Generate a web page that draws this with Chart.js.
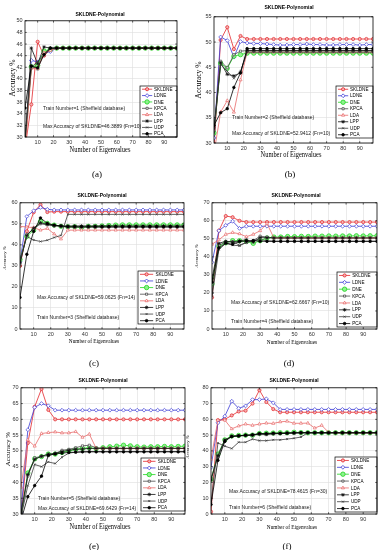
<!DOCTYPE html>
<html><head><meta charset="utf-8">
<script src="https://cdn.jsdelivr.net/npm/chart.js@4.4.0/dist/chart.umd.min.js"></script>
<style>
html,body{margin:0;padding:0;background:#fff;}
body{width:379px;height:550px;overflow:hidden;position:relative;}
canvas{position:absolute;}
.t{position:absolute;white-space:nowrap;line-height:1;color:#000;font-family:"Liberation Sans",Arial,sans-serif;}
</style></head><body>
<script>
// ---------------- data ----------------
const eigen = [2,6,10,14,18,22,26,30,34,38,42,46,50,54,58,62,66,70,74,78,82,86,90,94,98];
const xTicks = [10,20,30,40,50,60,70,80,90];
const seriesNames = ['SKLDNE','LDNE','DNE','KPCA','LDA','LPP','UDP','PCA'];

const yTicksA = [30,32,34,36,38,40,42,44,46,48,50];
const yTicksB = [30,35,40,45,50,55];
const yTicksC = [0,10,20,30,40,50,60];
const yTicksD = [0,10,20,30,40,50,60,70];
const yTicksE = [30,35,40,45,50,55,60,65,70];
const yTicksF = [0,10,20,30,40,50,60,70,80];

// (a) Train Number=1
const a_SKLDNE = [28,35.6,46.39,44.0,45.0,45.3,45.3,45.3,45.3,45.3,45.3,45.3,45.3,45.3,45.3,45.3,45.3,45.3,45.3,45.3,45.3,45.3,45.3,45.3,45.3];
const a_LDNE   = [28.5,43.2,42.9,44.5,44.7,45.3,45.3,45.3,45.3,45.3,45.3,45.3,45.3,45.3,45.3,45.3,45.3,45.3,45.3,45.3,45.3,45.3,45.3,45.3,45.3];
const a_DNE    = [28.5,42.1,42.3,44.8,45.1,45.3,45.3,45.3,45.3,45.3,45.3,45.3,45.3,45.3,45.3,45.3,45.3,45.3,45.3,45.3,45.3,45.3,45.3,45.3,45.3];
const a_KPCA   = [29,42.2,41.7,44.3,45.3,45.3,45.3,45.3,45.3,45.3,45.3,45.3,45.3,45.3,45.3,45.3,45.3,45.3,45.3,45.3,45.3,45.3,45.3,45.3,45.3];
const a_LDA    = [27,41.8,41.8,44.5,44.9,45.3,45.3,45.3,45.3,45.3,45.3,45.3,45.3,45.3,45.3,45.3,45.3,45.3,45.3,45.3,45.3,45.3,45.3,45.3,45.3];
const a_LPP    = [29,45.3,42.6,45.5,45.3,45.3,45.3,45.3,45.3,45.3,45.3,45.3,45.3,45.3,45.3,45.3,45.3,45.3,45.3,45.3,45.3,45.3,45.3,45.3,45.3];
const a_UDP    = [30,42.0,43.0,44.0,45.2,45.3,45.3,45.3,45.3,45.3,45.3,45.3,45.3,45.3,45.3,45.3,45.3,45.3,45.3,45.3,45.3,45.3,45.3,45.3,45.3];
const a_PCA    = [35,42.2,41.9,44.2,45.3,45.3,45.3,45.3,45.3,45.3,45.3,45.3,45.3,45.3,45.3,45.3,45.3,45.3,45.3,45.3,45.3,45.3,45.3,45.3,45.3];

// (b) Train Number=2
const b_SKLDNE = [29,50.4,52.94,48.6,51.2,50.6,50.6,50.6,50.6,50.6,50.6,50.6,50.6,50.6,50.6,50.6,50.6,50.6,50.6,50.6,50.6,50.6,50.6,50.6,50.6];
const b_LDNE   = [31,51.0,50.3,47.0,50.1,49.8,49.7,49.7,49.6,49.5,49.4,49.4,49.5,49.5,49.6,49.5,49.5,49.4,49.4,49.5,49.5,49.5,49.4,49.5,49.5];
const b_DNE    = [32,45.8,44.8,47.2,47.5,47.8,47.8,47.8,47.8,47.8,47.8,47.8,47.8,47.8,47.8,47.8,47.8,47.8,47.8,47.8,47.8,47.8,47.8,47.8,47.8];
const b_KPCA   = [32.5,46.2,44.9,47.5,48.2,48.3,48.3,48.3,48.3,48.3,48.3,48.3,48.3,48.3,48.3,48.3,48.3,48.3,48.3,48.3,48.3,48.3,48.3,48.3,48.3];
const b_LDA    = [28,36.1,38.4,36.1,42.5,48.0,48.0,48.0,48.0,48.0,48.0,48.0,48.0,48.0,48.0,48.0,48.0,48.0,48.0,48.0,48.0,48.0,48.0,48.0,48.0];
const b_LPP    = [33,45.9,43.6,43.3,43.9,48.3,48.3,48.3,48.3,48.3,48.3,48.3,48.3,48.3,48.3,48.3,48.3,48.3,48.3,48.3,48.3,48.3,48.3,48.3,48.3];
const b_UDP    = [32,45.6,44.2,42.8,44.2,48.0,48.0,48.0,48.0,48.0,48.0,48.0,48.0,48.0,48.0,48.0,48.0,48.0,48.0,48.0,48.0,48.0,48.0,48.0,48.0];
const b_PCA    = [33.5,36.0,36.8,41.0,43.9,48.7,48.7,48.7,48.7,48.7,48.7,48.7,48.7,48.7,48.7,48.7,48.7,48.7,48.7,48.7,48.7,48.7,48.7,48.7,48.7];

// (c) Train Number=3
const c_SKLDNE = [30,46.5,55.5,59.06,55.6,55.8,55.8,55.8,55.8,55.8,55.8,55.8,55.8,55.8,55.8,55.8,55.8,55.8,55.8,55.8,55.8,55.8,55.8,55.8,55.8];
const c_LDNE   = [32,53.5,56.2,57.8,56.9,56.6,56.6,56.6,56.6,56.6,56.6,56.6,56.6,56.6,56.6,56.6,56.6,56.6,56.6,56.6,56.6,56.6,56.6,56.6,56.6];
const c_DNE    = [33,44,47,51.2,50.2,49.4,48.8,48.6,48.6,48.2,48.8,48.8,49.0,49.2,49.4,49.5,49.5,49.5,49.5,49.5,49.5,49.5,49.5,49.5,49.5];
const c_KPCA   = [31,45,47.5,50,49.5,49,48.8,48.4,48.4,48.4,48.4,48.4,48.4,48.4,48.4,48.4,48.4,48.4,48.4,48.4,48.4,48.4,48.4,48.4,48.4];
const c_LDA    = [48.8,48.5,48.2,47.0,47.8,45.2,42.8,47.0,47.0,47.0,47.0,47.0,47.0,47.0,47.0,47.0,47.0,47.0,47.0,47.0,47.0,47.0,47.0,47.0,47.0];
const c_LPP    = [31.5,44.5,48,50.5,49.8,49.2,49.0,49.0,49.0,49.0,49.0,49.0,49.0,49.0,49.0,49.0,49.0,49.0,49.0,49.0,49.0,49.0,49.0,49.0,49.0];
const c_UDP    = [33,44,42.3,41.6,42.2,43.5,44.5,54.5,54.5,54.5,54.5,54.5,54.5,54.5,54.5,54.5,54.5,54.5,54.5,54.5,54.5,54.5,54.5,54.5,54.5];
const c_PCA    = [15,35.5,46.4,52.8,50.2,49.4,49.0,48.6,48.6,48.6,48.6,48.6,48.6,48.6,48.6,48.6,48.6,48.6,48.6,48.6,48.6,48.6,48.6,48.6,48.6];

// (d) Train Number=4
const d_SKLDNE = [17.5,54.5,62.67,62.0,60.0,59.3,59.3,59.3,59.3,59.3,59.3,59.3,59.3,59.3,59.3,59.3,59.3,59.3,59.3,59.3,59.3,59.3,59.3,59.3,59.3];
const d_LDNE   = [37,54.5,57.5,59.8,55.8,57.0,57.0,57.0,57.0,57.0,57.0,57.0,57.0,57.0,57.0,57.0,57.0,57.0,57.0,57.0,57.0,57.0,57.0,57.0,57.0];
const d_DNE    = [25,46,47.8,49,49,48.5,47.5,49,50.5,51,51,51.3,51.2,51.4,51.3,51.5,51.5,51.6,51.5,51.6,51.6,51.7,51.6,51.7,51.7];
const d_KPCA   = [20,46.5,48.2,48.5,46.5,48,49,51.5,51,50.5,50.5,50.5,50.5,50.5,50.5,50.5,50.5,50.5,50.5,50.5,50.5,50.5,50.5,50.5,50.5];
const d_LDA    = [47,49.5,52.5,53.5,52.8,51.2,52.5,54.5,58.5,50.5,50.5,50.5,50.5,50.5,50.5,50.5,50.5,50.5,50.5,50.5,50.5,50.5,50.5,50.5,50.5];
const d_LPP    = [28,47.5,48.7,48.2,48.9,49.5,48.2,50.7,50.6,50.5,50.5,50.5,50.5,50.5,50.5,50.5,50.5,50.5,50.5,50.5,50.5,50.5,50.5,50.5,50.5];
const d_UDP    = [18,44,47.5,46.5,46.2,48,49.2,49.6,49.0,48.7,48.7,48.7,48.7,48.7,48.7,48.7,48.7,48.7,48.7,48.7,48.7,48.7,48.7,48.7,48.7];
const d_PCA    = [26,45,47.6,47,48.5,48.8,49,48.7,48.6,48.6,48.6,48.6,48.6,48.6,48.6,48.6,48.6,48.6,48.6,48.6,48.6,48.6,48.6,48.6,48.6];

// (e) Train Number=5
const e_SKLDNE = [29,52.5,64,69.64,63,60,60,60,60,60,60,60,60,60,60,60,60,60,60,60,60,60,60,60,60];
const e_LDNE   = [30.5,56.7,63.8,65,64.3,62.9,62.9,62.9,62.9,62.9,62.9,62.9,62.9,62.9,62.9,62.9,62.9,62.9,62.9,62.9,62.9,62.9,62.9,62.9,62.9];
const e_DNE    = [29,43,47.5,48.2,49,49,49.5,50,50.5,50.8,51,50.7,51,51.3,51.5,51.8,51.6,51.3,51.2,51.3,51.3,51.4,51.3,51.4,51.5];
const e_KPCA   = [29,42,47.8,48.3,48.5,49.2,50.2,50.5,51,51.6,51.8,51.0,50.8,50.8,50.8,50.8,50.8,50.8,50.8,50.8,50.8,50.8,50.8,50.8,50.8];
const e_LDA    = [38.5,53.5,51.5,55.5,55.8,56,55.7,55.7,56.1,54.3,55.3,50.8,50.8,50.8,50.8,50.8,50.8,50.8,50.8,50.8,50.8,50.8,50.8,50.8,50.8];
const e_LPP    = [30.5,42.5,47.3,48.3,49,49.2,49.8,50.2,50.5,50.6,50.8,50.8,50.8,50.8,50.8,50.8,50.8,50.8,50.8,50.8,50.8,50.8,50.8,50.8,50.8];
const e_UDP    = [29,39,45.7,45.0,46.5,46.0,48.0,49.3,49.6,49.7,49.8,49.8,49.8,49.8,49.8,49.8,49.8,49.8,49.8,49.8,49.8,49.8,49.8,49.8,49.8];
const e_PCA    = [28,35.5,39,42,48.6,49,49.3,49.5,49.6,49.7,49.7,49.7,49.7,49.7,49.7,49.7,49.7,49.7,49.7,49.7,49.7,49.7,49.7,49.7,49.7];

// (f) Train Number=6
const f_SKLDNE = [1.5,59.5,60,62.5,65,65.5,70,78.46,71,66.5,64.5,64.5,64.5,64.5,64.5,64.5,64.5,64.5,64.5,64.5,64.5,64.5,64.5,64.5,64.5];
const f_LDNE   = [29.5,57.8,62,71.5,67,68.5,72.5,72.5,73,70.5,66.3,66.3,66.3,66.3,66.3,66.3,66.3,66.3,66.3,66.3,66.3,66.3,66.3,66.3,66.3];
const f_DNE    = [22,38,47,49.5,49.8,50,50,51,51.2,51.3,51.5,51.5,51.8,51.6,51.5,51.5,51.5,51.5,51.5,51.5,51.5,51.5,51.5,51.5,51.5];
const f_KPCA   = [22.5,36,46.5,49.3,49.5,49.8,50,50.5,50.3,50.8,51,51.2,51.3,51.5,51.5,51.5,51.5,51.5,51.5,51.5,51.5,51.5,51.5,51.5,51.5];
const f_LDA    = [34.7,59.5,59.5,54.0,55.8,57.0,56.2,57.0,57.6,57.4,58.4,58.8,57.5,57.5,57.6,54.5,56.2,51.8,51.5,51.5,51.5,51.5,51.5,51.5,51.5];
const f_LPP    = [21.5,37,47,49,49.5,49.8,50,50.8,50.6,51,51,51.2,51.3,51.5,51.5,51.5,51.5,51.5,51.5,51.5,51.5,51.5,51.5,51.5,51.5];
const f_UDP    = [6.5,45,43,41.5,45.5,45.5,47.5,46.5,46.5,47,47,47.5,48,48.8,51.5,51.5,51.5,51.5,51.5,51.5,51.5,51.5,51.5,51.5,51.5];
const f_PCA    = [6,34,46,49.2,49.6,50,50.2,51,51,51.2,51.2,51.3,51.5,51.5,51.5,51.5,51.5,51.5,51.5,51.5,51.5,51.5,51.5,51.5,51.5];

// ---------------- texts ----------------
const titleText = 'SKLDNE-Polynomial';
const xLabelText = 'Number of Eigenvalues';
const yLabelText = 'Accuracy %';
const trainNotes = ['Train Number=1 (Sheffield database)','Train Number=2 (Sheffield database)','Train Number=3 (Sheffield database)','Train Number=4 (Sheffield database)','Train Number=5 (Sheffield database)','Train Number=6 (Sheffield database)'];
const maxNotes = ['Max Accuracy of SKLDNE=46.3889 (Fn=10)','Max Accuracy of SKLDNE=52.9412 (Fn=10)','Max Accuracy of SKLDNE=59.0625 (Fn=14)','Max Accuracy of SKLDNE=62.6667 (Fn=10)','Max Accuracy of SKLDNE=69.6429 (Fn=14)','Max Accuracy of SKLDNE=78.4615 (Fn=30)'];
const panelTags = ['(a)','(b)','(c)','(d)','(e)','(f)'];

// ---------------- styles & layout ----------------
const STYLE = {
  SKLDNE:{c:'#e3262b', ps:'circle',   bg:'#f5b0b0', r:1.6},
  LDNE:  {c:'#3b3bd6', ps:'rectRot',  bg:'#ffffff', r:1.9},
  DNE:   {c:'#1fd41f', ps:'circle',   bg:'#8ef28e', r:2.2},
  KPCA:  {c:'#4a4a4a', ps:'rect',     bg:'#ffffff', r:1.5},
  LDA:   {c:'#e86a6a', ps:'triangle', bg:'#ffffff', r:1.8},
  LPP:   {c:'#111111', ps:'star',     bg:'#111111', r:1.8},
  UDP:   {c:'#3a3a3a', ps:'crossRot', bg:'#3a3a3a', r:1.4},
  PCA:   {c:'#000000', ps:'circle',   bg:'#000000', r:1.3}
};

const panels = [
  {plot:[25,19,152,118], y:[30,50], yt:yTicksA, s:[a_SKLDNE,a_LDNE,a_DNE,a_KPCA,a_LDA,a_LPP,a_UDP,a_PCA], leg:[37,51,0,0],
   title:[100,15], xl:[100,150,1], yl:[13,78,1], tag:[97,174], notes:[[trainNotes[0],43,108],[maxNotes[0],43,126]]},
  {plot:[214,15,159,128], y:[30,55], yt:yTicksB, s:[b_SKLDNE,b_LDNE,b_DNE,b_KPCA,b_LDA,b_LPP,b_UDP,b_PCA], leg:[37,52,0,5],
   title:[289,8], xl:[291,155,1], yl:[199,80,1], tag:[290,174], notes:[[trainNotes[1],232,117],[maxNotes[1],232,133]]},
  {plot:[20,201,164,128], y:[0,60], yt:yTicksC, s:[c_SKLDNE,c_LDNE,c_DNE,c_KPCA,c_LDA,c_LPP,c_UDP,c_PCA], leg:[46,53,0,5],
   title:[102,196], xl:[94,342,0], yl:[5,258,0], tag:[94,363], notes:[[maxNotes[2],37,297],[trainNotes[2],37,317]]},
  {plot:[212,201,165,128], y:[0,70], yt:yTicksD, s:[d_SKLDNE,d_LDNE,d_DNE,d_KPCA,d_LDA,d_LPP,d_UDP,d_PCA], leg:[40,55,0,2],
   title:[296,196], xl:[292,343,0], yl:[197,256,0], tag:[289,363], notes:[[maxNotes[3],231,302],[trainNotes[3],231,321]]},
  {plot:[21,386,164,128], y:[30,70], yt:yTicksE, s:[e_SKLDNE,e_LDNE,e_DNE,e_KPCA,e_LDA,e_LPP,e_UDP,e_PCA], leg:[44,53,0,3],
   title:[103,381], xl:[100,527,1], yl:[8,449,2], tag:[94,546], notes:[[trainNotes[4],38,498],[maxNotes[4],38,508]]},
  {plot:[211,386,166,128], y:[0,80], yt:yTicksF, s:[f_SKLDNE,f_LDNE,f_DNE,f_KPCA,f_LDA,f_LPP,f_UDP,f_PCA], leg:[42,55,0,2],
   title:[294,381], xl:[292,528,0], yl:[188,447,0], tag:[287,546], notes:[[maxNotes[5],229,491],[trainNotes[5],229,507]]}
];

const YW = 26, PT = 4, PR = 4, XH = 12;

function addText(txt, x, y, css, transform){
  const d = document.createElement('div');
  d.className = 't';
  d.textContent = txt;
  d.style.cssText += css;
  d.style.left = x + 'px';
  d.style.top = y + 'px';
  d.style.transform = transform;
  document.body.appendChild(d);
}

function marker(ctx, style, r, x, y){
  if (Chart.helpers && Chart.helpers.drawPoint) {
    Chart.helpers.drawPoint(ctx, {pointStyle:style, rotation:0, radius:r, borderWidth:0.7}, x, y);
  } else {
    ctx.beginPath(); ctx.arc(x,y,r,0,Math.PI*2); ctx.fill(); ctx.stroke();
  }
}

const frame = {
  id:'frame',
  afterDraw(chart){
    const ctx = chart.ctx, a = chart.chartArea;
    ctx.save();
    ctx.strokeStyle = '#000'; ctx.lineWidth = 0.8;
    ctx.strokeRect(a.left, a.top, a.right - a.left, a.bottom - a.top);
    ctx.lineWidth = 0.6;
    ctx.beginPath();
    chart.scales.x.ticks.forEach(t => {
      const px = chart.scales.x.getPixelForValue(t.value);
      ctx.moveTo(px, a.bottom); ctx.lineTo(px, a.bottom - 1.8);
      ctx.moveTo(px, a.top); ctx.lineTo(px, a.top + 1.8);
    });
    chart.scales.y.ticks.forEach(t => {
      const py = chart.scales.y.getPixelForValue(t.value);
      ctx.moveTo(a.left, py); ctx.lineTo(a.left + 1.8, py);
      ctx.moveTo(a.right, py); ctx.lineTo(a.right - 1.8, py);
    });
    ctx.stroke();
    ctx.restore();
  }
};

const insideLegend = {
  id:'insideLegend',
  afterDatasetsDraw(chart, args, opts){
    if (!opts || !opts.box) return;
    const [w, h, dr, db] = opts.box;
    const ctx = chart.ctx, a = chart.chartArea;
    const x = a.right - dr - w, y = a.bottom - db - h;
    ctx.save();
    ctx.fillStyle = '#fff';
    ctx.fillRect(x, y, w, h);
    ctx.strokeStyle = '#000'; ctx.lineWidth = 0.7;
    ctx.strokeRect(x, y, w, h);
    const ds = chart.data.datasets, rh = h / ds.length;
    const segL = x + 2, segR = x + w * 0.33, tx = x + w * 0.38;
    ds.forEach((d, i) => {
      const cy = y + rh * (i + 0.5);
      ctx.strokeStyle = d.borderColor; ctx.lineWidth = 0.8;
      ctx.beginPath(); ctx.moveTo(segL, cy); ctx.lineTo(segR, cy); ctx.stroke();
      ctx.fillStyle = d.pointBackgroundColor; ctx.strokeStyle = d.pointBorderColor;
      marker(ctx, d.pointStyle, d.pointRadius, (segL + segR) / 2, cy);
      ctx.fillStyle = '#000';
      ctx.font = '4.6px "Liberation Sans", Arial, sans-serif';
      ctx.textBaseline = 'middle'; ctx.textAlign = 'left';
      ctx.fillText(d.label, tx, cy + 0.3);
    });
    ctx.restore();
  }
};

panels.forEach((p, pi) => {
  const [l, t, w, h] = p.plot;
  const W = YW + w + PR, H = PT + h + XH;
  const cv = document.createElement('canvas');
  cv.width = W; cv.height = H;
  cv.style.left = (l - YW) + 'px'; cv.style.top = (t - PT) + 'px';
  cv.style.width = W + 'px'; cv.style.height = H + 'px';
  document.body.appendChild(cv);

  const datasets = seriesNames.map((n, i) => ({
    label: n,
    data: eigen.map((x, j) => ({x: x, y: p.s[i][j]})),
    borderColor: STYLE[n].c,
    backgroundColor: STYLE[n].bg,
    pointBackgroundColor: STYLE[n].bg,
    pointBorderColor: STYLE[n].c,
    pointStyle: STYLE[n].ps,
    pointRadius: STYLE[n].r,
    pointBorderWidth: 0.7,
    borderWidth: 0.8,
    tension: 0,
    fill: false,
    order: seriesNames.length - i
  }));

  const tickFont = {size: 5.5, family: '"Liberation Sans", Arial, sans-serif'};
  const grid = {color: '#dedede', lineWidth: 0.6, drawTicks: false};

  new Chart(cv, {
    type: 'line',
    data: {datasets},
    plugins: [frame, insideLegend],
    options: {
      responsive: false, animation: false, devicePixelRatio: 1,
      events: [],
      layout: {padding: {left: 0, top: PT, right: PR, bottom: 0}, autoPadding: false},
      plugins: {legend: {display: false}, tooltip: {enabled: false}, title: {display: false},
                insideLegend: {box: p.leg}},
      scales: {
        x: {type: 'linear', min: 2, max: 98,
            afterBuildTicks: s => { s.ticks = xTicks.map(v => ({value: v})); },
            afterFit: s => { s.height = XH; },
            ticks: {font: tickFont, color: '#333', padding: 2, maxRotation: 0, autoSkip: false},
            grid: grid, border: {display: false}},
        y: {type: 'linear', min: p.y[0], max: p.y[1],
            afterBuildTicks: s => { s.ticks = p.yt.map(v => ({value: v})); },
            afterFit: s => { s.width = YW; },
            ticks: {font: tickFont, color: '#333', padding: 2.5, autoSkip: false},
            grid: grid, border: {display: false}}
      }
    }
  });

  // title
  addText(titleText, p.title[0], p.title[1], 'font-weight:bold;font-size:5.6px;', 'translate(-50%,-50%) scaleX(0.9)');
  // x label
  if (p.xl[2]) addText(xLabelText, p.xl[0], p.xl[1], 'font-family:"Liberation Serif","Times New Roman",serif;font-size:8px;', 'translate(-50%,-50%) scaleX(0.8)');
  else addText(xLabelText, p.xl[0], p.xl[1], 'font-family:"Liberation Serif","Times New Roman",serif;font-size:5.3px;', 'translate(-50%,-50%)');
  // y label
  const ylSize = p.yl[2] === 1 ? 7.5 : (p.yl[2] === 2 ? 7 : 4.8);
  addText(yLabelText, p.yl[0], p.yl[1], 'font-family:"Liberation Serif","Times New Roman",serif;font-size:' + ylSize + 'px;', 'translate(-50%,-50%) rotate(-90deg)');
  // notes
  p.notes.forEach(n => addText(n[0], n[1], n[2], 'font-size:5px;color:#222;', 'translateY(-50%)'));
  // panel tag
  addText(panelTags[pi], p.tag[0], p.tag[1], 'font-family:"Liberation Serif","Times New Roman",serif;font-size:9px;', 'translate(-50%,-50%)');
});
</script>
</body></html>
